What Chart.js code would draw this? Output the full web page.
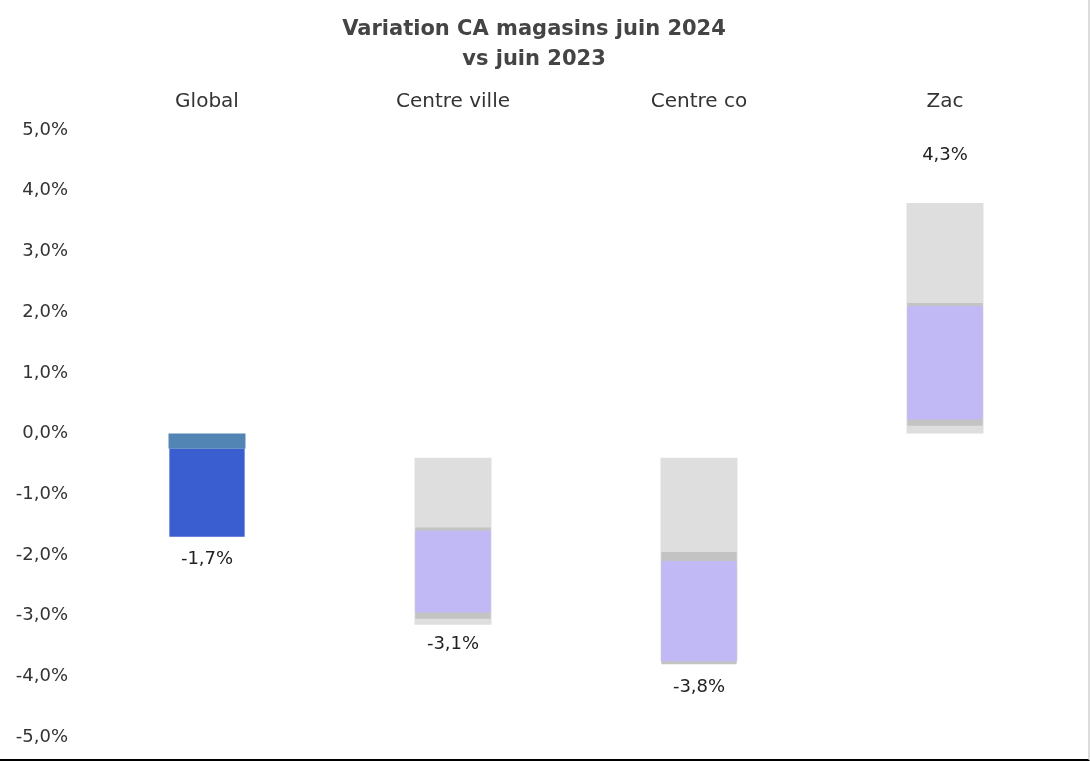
<!DOCTYPE html>
<html>
<head>
<meta charset="utf-8">
<script src="https://cdn.jsdelivr.net/npm/chart.js@4"></script>
<style>
  html, body { margin: 0; padding: 0; background: #fff; }
  #wrap { width: 1088px; height: 759px; border-right: 2px solid #dcdcdc; border-bottom: 2px solid #000; }
</style>
</head>
<body>
<div id="wrap"><canvas id="myChart" width="1088" height="759"></canvas></div>
<script>
// values
var categories = ["Global", "Centre ville", "Centre co", "Zac"];
var finalValues = [-1.7, -3.1, -3.8, 4.3];
// bars were caught mid-draw: filled part, darker shadow and pale ghost
var fillRanges = [[-0.25, -1.7], [-1.6, -2.95], [-2.1, -3.75], [0.23, 2.1]];
var shadowRanges = [null, [-1.55, -3.05], [-1.95, -3.8], [0.13, 2.15]];
var ghostRanges = [[0, -0.25], [-0.4, -3.15], [-0.4, -3.75], [0, 3.8]];
var yTicks = [-5, -4, -3, -2, -1, 0, 1, 2, 3, 4, 5];

var FONT = '"DejaVu Sans", Verdana, sans-serif';

function pct(v) {
  return v.toFixed(1).replace('.', ',') + '%';
}

var valueLabels = {
  id: 'valueLabels',
  afterDatasetsDraw: function(chart) {
    var c = chart.ctx, x = chart.scales.x, y = chart.scales.y;
    c.save();
    c.font = '18px ' + FONT;
    c.fillStyle = '#222';
    c.textAlign = 'center';
    c.textBaseline = 'middle';
    finalValues.forEach(function(v, i) {
      var py = y.getPixelForValue(v) + (v < 0 ? 23 : -17);
      c.fillText(pct(v), x.getPixelForValue(i), py);
    });
    c.restore();
  }
};

var ctx = document.getElementById("myChart").getContext('2d');
var myChart = new Chart(ctx, {
  type: 'bar',
  data: {
    labels: categories,
    datasets: [{
      label: 'fill',
      data: fillRanges,
      backgroundColor: ['#3a5dcf', '#c1b8f6', '#c1b8f6', '#c1b8f6'],
      grouped: false,
      barPercentage: 0.9,
      categoryPercentage: 0.34
    }, {
      label: 'shadow',
      data: shadowRanges,
      backgroundColor: '#c3c3c3',
      grouped: false,
      barPercentage: 0.9,
      categoryPercentage: 0.34
    }, {
      label: 'ghost',
      data: ghostRanges,
      backgroundColor: ['#5284b4', '#dedede', '#dedede', '#dedede'],
      grouped: false,
      barPercentage: 0.92,
      categoryPercentage: 0.34
    }]
  },
  options: {
    responsive: false,
    animation: false,
    layout: { padding: { top: 0, bottom: 22, right: 20, left: 0 } },
    plugins: {
      legend: { display: false },
      tooltip: { enabled: false },
      title: {
        display: true,
        text: ['Variation CA magasins juin 2024', 'vs juin 2023'],
        color: '#444',
        font: { family: FONT, size: 21, weight: 'bold', lineHeight: 1.43 },
        padding: { top: 15, bottom: 8 }
      }
    },
    scales: {
      x: {
        position: 'top',
        grid: { display: false, drawTicks: false },
        border: { display: false },
        ticks: {
          color: '#333',
          font: { family: FONT, size: 20 },
          padding: 16
        },
        afterFit: function(s) { s.height = 47; }
      },
      y: {
        min: -5,
        max: 5,
        grid: { display: false, drawTicks: false },
        border: { display: false },
        afterBuildTicks: function(s) { s.ticks = yTicks.map(function(v) { return { value: v }; }); },
        ticks: {
          color: '#333',
          font: { family: FONT, size: 18 },
          padding: 16,
          callback: function(v) { return pct(v); }
        },
        afterFit: function(s) { s.width = 84; s.paddingTop = 0; s.paddingBottom = 0; }
      }
    }
  },
  plugins: [valueLabels]
});
</script>
</body>
</html>
